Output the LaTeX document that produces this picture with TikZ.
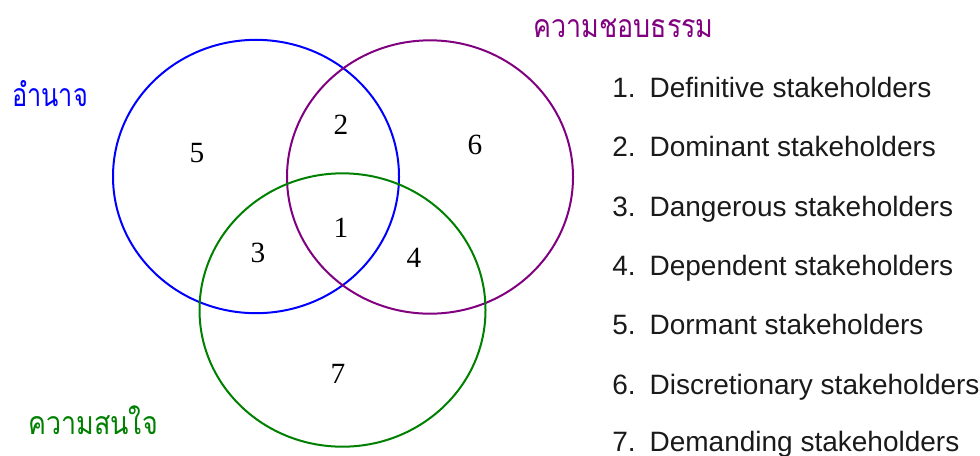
\documentclass[tikz,border=0pt]{standalone}
\usepackage{fontspec}
\setmainfont{Liberation Sans}
\newfontfamily\thaifont[Script=Thai]{Loma}
\newfontfamily\numfont{Liberation Serif}
\usetikzlibrary{shapes.geometric}
\definecolor{vpurple}{RGB}{128,0,128}
\definecolor{vgreen}{RGB}{0,128,0}
\definecolor{vblue}{RGB}{0,0,255}
\definecolor{itemgray}{RGB}{26,26,26}
\begin{document}
\begin{tikzpicture}[x=0.75pt,y=-0.75pt,
  ring/.style={draw, line width=1.5pt, ellipse, inner sep=0pt,
               minimum width=214.5pt, minimum height=205pt},
  num/.style={font=\numfont\fontsize{22}{24}\selectfont, inner sep=0pt},
  item/.style={anchor=base west, font=\fontsize{21}{24}\selectfont,
               text=itemgray, inner sep=0pt},
  thai/.style={anchor=base west, font=\thaifont\fontsize{24}{28}\selectfont,
               inner sep=0pt}]
\useasboundingbox[fill=white] (0,0) rectangle (980,455);
% circles
\node[ring, draw=vblue]   (power) at (256,176.5) {};
\node[ring, draw=vpurple] (legit) at (430,177) {};
\node[ring, draw=vgreen]  (urg)   at (342.5,310) {};
% region numbers
\node[num] (n5) at (197,153) {5};
\node[num] (n2) at (341,125) {2};
\node[num] (n6) at (475,145) {6};
\node[num] (n1) at (341,228) {1};
\node[num] (n3) at (258,253) {3};
\node[num] (n4) at (414,258) {4};
\node[num] (n7) at (338,374) {7};
% Thai labels
\node[thai, text=vblue]   (lpower) at (12,106) {\scalebox{0.79}[1]{อำนาจ}};
\node[thai, text=vpurple] (llegit) at (533,37) {\scalebox{0.84}[1]{ความชอบธรรม}};
\node[thai, text=vgreen]  (lurg)   at (28,434) {\scalebox{0.84}[1]{ความสนใจ}};
% list
\node[item] (i1) at (612,97)  {1.\enspace Definitive stakeholders};
\node[item] (i2) at (612,156) {2.\enspace Dominant stakeholders};
\node[item] (i3) at (612,216) {3.\enspace Dangerous stakeholders};
\node[item] (i4) at (612,275) {4.\enspace Dependent stakeholders};
\node[item] (i5) at (612,334) {5.\enspace Dormant stakeholders};
\node[item] (i6) at (612,394) {6.\enspace Discretionary stakeholders};
\node[item] (i7) at (612,451) {7.\enspace Demanding stakeholders};
\end{tikzpicture}
\end{document}
